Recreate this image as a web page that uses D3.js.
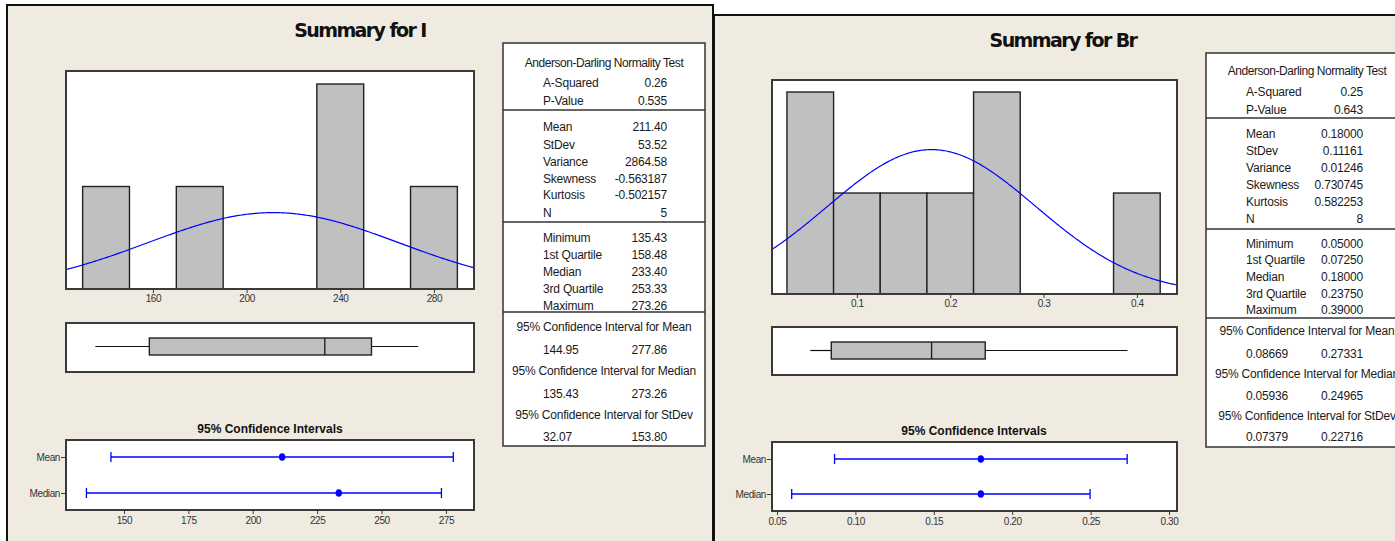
<!DOCTYPE html>
<html><head><meta charset="utf-8">
<script src="https://cdn.jsdelivr.net/npm/d3@7/dist/d3.min.js"></script>
<style>
html,body{margin:0;padding:0;background:#fff;}
svg{display:block;font-family:"Liberation Sans",Arial,sans-serif;}
</style></head><body>
<svg id="chart" width="1395" height="541"></svg>
<script>
// ---------------- DATA ----------------
const titles = ["Summary for I", "Summary for Br"];
const adHeader = "Anderson-Darling Normality Test";
const adLabels = ["A-Squared", "P-Value"];
const descLabels = ["Mean", "StDev", "Variance", "Skewness", "Kurtosis", "N"];
const quartLabels = ["Minimum", "1st Quartile", "Median", "3rd Quartile", "Maximum"];
const ciLabels = ["95% Confidence Interval for Mean", "95% Confidence Interval for Median", "95% Confidence Interval for StDev"];
const ciTitle = "95% Confidence Intervals";
const ciRows = ["Mean", "Median"];

// I
const iBinMid = [140, 160, 180, 200, 220, 240, 260, 280];
const iCounts = [1, 0, 1, 0, 0, 2, 0, 1];
const iBinWidth = 20;
const iMean = 211.40, iStDev = 53.52, iN = 5;
const iAdValues = ["0.26", "0.535"];
const iDescValues = ["211.40", "53.52", "2864.58", "-0.563187", "-0.502157", "5"];
const iQuartValues = ["135.43", "158.48", "233.40", "253.33", "273.26"];
const iCiValues = [["144.95", "277.86"], ["135.43", "273.26"], ["32.07", "153.80"]];
const iCiLow = [144.95, 135.43];
const iCiHigh = [277.86, 273.26];
const iCiPoint = [211.40, 233.40];
const iHistTicks = [160, 200, 240, 280];
const iCiTicks = [150, 175, 200, 225, 250, 275];

// Br
const brBinMid = [0.05, 0.10, 0.15, 0.20, 0.25, 0.30, 0.35, 0.40];
const brCounts = [2, 1, 1, 1, 2, 0, 0, 1];
const brBinWidth = 0.05;
const brMean = 0.18000, brStDev = 0.11161, brN = 8;
const brAdValues = ["0.25", "0.643"];
const brDescValues = ["0.18000", "0.11161", "0.01246", "0.730745", "0.582253", "8"];
const brQuartValues = ["0.05000", "0.07250", "0.18000", "0.23750", "0.39000"];
const brCiValues = [["0.08669", "0.27331"], ["0.05936", "0.24965"], ["0.07379", "0.22716"]];
const brCiLow = [0.08669, 0.05936];
const brCiHigh = [0.27331, 0.24965];
const brCiPoint = [0.18000, 0.18000];
const brHistTicks = [0.1, 0.2, 0.3, 0.4];
const brCiTicks = [0.05, 0.10, 0.15, 0.20, 0.25, 0.30];

// ---------------- LAYOUT ----------------
const BG = "#EFEBE1", FRAME = "#3a3a3a", BAR = "#C0C0C0", BLUE = "#0000FF", TXT = "#1a1a1a";
const svg = d3.select("#chart");
svg.append("rect").attr("x", 0).attr("y", 0).attr("width", 1395).attr("height", 541).attr("fill", "#fff");

const panels = [
  {
    title: titles[0], panel: {x: 7, y: 5, w: 706}, titleX: 360, titleY: 37,
    binMid: iBinMid, counts: iCounts, binW: iBinWidth, mean: iMean, sd: iStDev, n: iN,
    histX: [122.9, 297.1], yMax: 2.127, hist: {x0: 66, x1: 474, y0: 71, y1: 289}, histTicks: iHistTicks, histFmt: d3.format("d"),
    box: {y0: 323, y1: 372, b0: 338, b1: 355}, quart: iQuartValues,
    ciTitleX: 270, ciTitleY: 433, ci: {y0: 440, y1: 510, r0: 457, r1: 493}, ciX: [127.5, 285.9],
    ciTicks: iCiTicks, ciFmt: d3.format("d"), ciLow: iCiLow, ciHigh: iCiHigh, ciPoint: iCiPoint,
    table: {x0: 503, x1: 705, y0: 43, y1: 446, seps: [110, 222, 312], labX: 543, valX: 667,
      rows: [63, 83, 101, 127, 145, 162, 179, 195, 213, 238, 255, 272, 289, 306, 327, 350, 371, 394, 415, 437]},
    ad: iAdValues, desc: iDescValues, ciVals: iCiValues
  },
  {
    title: titles[1], panel: {x: 714, y: 15, w: 700}, titleX: 1063, titleY: 47,
    binMid: brBinMid, counts: brCounts, binW: brBinWidth, mean: brMean, sd: brStDev, n: brN,
    histX: [0.009, 0.443], yMax: 2.119, hist: {x0: 772, x1: 1177, y0: 80, y1: 294}, histTicks: brHistTicks, histFmt: d3.format(".1f"),
    box: {y0: 327, y1: 375, b0: 342, b1: 359}, quart: brQuartValues,
    ciTitleX: 974, ciTitleY: 435, ci: {y0: 442, y1: 511, r0: 459, r1: 494}, ciX: [0.0468, 0.3051],
    ciTicks: brCiTicks, ciFmt: d3.format(".2f"), ciLow: brCiLow, ciHigh: brCiHigh, ciPoint: brCiPoint,
    table: {x0: 1206, x1: 1408, y0: 53, y1: 447, seps: [118, 229, 318], labX: 1246, valX: 1363,
      rows: [71, 92, 110, 134, 151, 168, 185, 202, 219, 244, 260, 277, 294, 310, 331, 354, 374, 396, 416, 437]},
    ad: brAdValues, desc: brDescValues, ciVals: brCiValues
  }
];

function styleAxis(g, fs) {
  g.select(".domain").remove();
  g.selectAll(".tick line").attr("stroke", FRAME).attr("stroke-width", 1);
  g.selectAll(".tick text").attr("fill", "#333").attr("font-size", fs).attr("font-family", "'Liberation Sans',Arial,sans-serif").attr("letter-spacing", "-0.4px");
}

panels.forEach((p, pi) => {
  const g = svg.append("g");
  // panel background + border
  g.append("rect").attr("x", p.panel.x).attr("y", p.panel.y).attr("width", p.panel.w).attr("height", 541 - p.panel.y + 5)
    .attr("fill", BG).attr("stroke", "#111").attr("stroke-width", 2);

  // title
  g.append("text").attr("x", p.titleX).attr("y", p.titleY).attr("text-anchor", "middle")
    .attr("font-family", "'DejaVu Sans',Verdana,sans-serif")
    .attr("font-size", 19).attr("font-weight", "bold").attr("letter-spacing", "-1.6px").attr("fill", "#111").text(p.title);

  // ---- histogram ----
  const H = p.hist;
  const x = d3.scaleLinear().domain(p.histX).range([H.x0, H.x1]);
  const y = d3.scaleLinear().domain([0, p.yMax]).range([H.y1, H.y0]);
  g.append("rect").attr("x", H.x0).attr("y", H.y0).attr("width", H.x1 - H.x0).attr("height", H.y1 - H.y0)
    .attr("fill", "#fff");
  const clipId = "clip" + pi;
  svg.append("clipPath").attr("id", clipId).append("rect").attr("x", H.x0).attr("y", H.y0).attr("width", H.x1 - H.x0).attr("height", H.y1 - H.y0);
  g.selectAll(".bar").data(p.binMid).join("rect")
    .attr("x", d => x(d - p.binW / 2)).attr("width", d => x(d + p.binW / 2) - x(d - p.binW / 2))
    .attr("y", (d, i) => y(p.counts[i])).attr("height", (d, i) => y(0) - y(p.counts[i]))
    .attr("fill", BAR).attr("stroke", "#222").attr("stroke-width", 1.4);
  // fitted normal curve from the mean / stdev shown in the table
  const curvePts = d3.range(0, 301).map(k => p.histX[0] + (p.histX[1] - p.histX[0]) * k / 300);
  const dens = v => p.n * p.binW * Math.exp(-0.5 * ((v - p.mean) / p.sd) ** 2) / (p.sd * Math.sqrt(2 * Math.PI));
  g.append("path").datum(curvePts).attr("clip-path", `url(#${clipId})`)
    .attr("d", d3.line().x(d => x(d)).y(d => y(dens(d))))
    .attr("fill", "none").attr("stroke", BLUE).attr("stroke-width", 1.2);
  g.append("rect").attr("x", H.x0).attr("y", H.y0).attr("width", H.x1 - H.x0).attr("height", H.y1 - H.y0)
    .attr("fill", "none").attr("stroke", FRAME).attr("stroke-width", 2);
  const ax = g.append("g").attr("transform", `translate(0,${H.y1 + 1})`)
    .call(d3.axisBottom(x).tickValues(p.histTicks).tickFormat(p.histFmt).tickSize(3).tickPadding(2));
  styleAxis(ax, 10);

  // ---- boxplot ----
  const B = p.box;
  const q = p.quart.map(Number);
  g.append("rect").attr("x", H.x0).attr("y", B.y0).attr("width", H.x1 - H.x0).attr("height", B.y1 - B.y0)
    .attr("fill", "#fff").attr("stroke", FRAME).attr("stroke-width", 2);
  const bm = (B.b0 + B.b1) / 2;
  g.append("line").attr("x1", x(q[0])).attr("x2", x(q[1])).attr("y1", bm).attr("y2", bm).attr("stroke", "#111").attr("stroke-width", 1.2);
  g.append("line").attr("x1", x(q[3])).attr("x2", x(q[4])).attr("y1", bm).attr("y2", bm).attr("stroke", "#111").attr("stroke-width", 1.2);
  g.append("rect").attr("x", x(q[1])).attr("y", B.b0).attr("width", x(q[3]) - x(q[1])).attr("height", B.b1 - B.b0)
    .attr("fill", BAR).attr("stroke", "#222").attr("stroke-width", 1.4);
  g.append("line").attr("x1", x(q[2])).attr("x2", x(q[2])).attr("y1", B.b0).attr("y2", B.b1).attr("stroke", "#222").attr("stroke-width", 1.4);

  // ---- CI plot ----
  const C = p.ci;
  g.append("text").attr("x", p.ciTitleX).attr("y", p.ciTitleY).attr("text-anchor", "middle")
    .attr("font-size", 12).attr("font-weight", "bold").attr("fill", "#111").text(ciTitle);
  const cx = d3.scaleLinear().domain(p.ciX).range([H.x0, H.x1]);
  const cy = d3.scalePoint().domain(ciRows).range([C.r0, C.r1]);
  g.append("rect").attr("x", H.x0).attr("y", C.y0).attr("width", H.x1 - H.x0).attr("height", C.y1 - C.y0)
    .attr("fill", "#fff").attr("stroke", FRAME).attr("stroke-width", 2);
  ciRows.forEach((r, i) => {
    const yy = cy(r);
    g.append("line").attr("x1", cx(p.ciLow[i])).attr("x2", cx(p.ciHigh[i])).attr("y1", yy).attr("y2", yy).attr("stroke", BLUE).attr("stroke-width", 1.3);
    [p.ciLow[i], p.ciHigh[i]].forEach(v => {
      g.append("line").attr("x1", cx(v)).attr("x2", cx(v)).attr("y1", yy - 5).attr("y2", yy + 5).attr("stroke", BLUE).attr("stroke-width", 1.3);
    });
    g.append("ellipse").attr("cx", cx(p.ciPoint[i])).attr("cy", yy).attr("rx", 3.2).attr("ry", 3.8).attr("fill", BLUE);
  });
  const cax = g.append("g").attr("transform", `translate(0,${C.y1 + 1})`)
    .call(d3.axisBottom(cx).tickValues(p.ciTicks).tickFormat(p.ciFmt).tickSize(3).tickPadding(3));
  styleAxis(cax, 10);
  const cay = g.append("g").attr("transform", `translate(${H.x0 - 1},0)`)
    .call(d3.axisLeft(cy).tickSize(4).tickPadding(1));
  styleAxis(cay, 10);

  // ---- stats table ----
  const T = p.table;
  g.append("rect").attr("x", T.x0).attr("y", T.y0).attr("width", T.x1 - T.x0).attr("height", T.y1 - T.y0)
    .attr("fill", "#fff").attr("stroke", "#333").attr("stroke-width", 1.5);
  T.seps.forEach(s => g.append("line").attr("x1", T.x0).attr("x2", T.x1).attr("y1", s).attr("y2", s).attr("stroke", "#333").attr("stroke-width", 1.5));
  const cxT = (T.x0 + T.x1) / 2;
  const R = T.rows;
  const txt = (xx, yy, s, anchor) => g.append("text").attr("x", xx).attr("y", yy).attr("dy", "0.35em")
    .attr("text-anchor", anchor).attr("font-size", 12).attr("letter-spacing", "-0.2px").attr("fill", TXT).text(s);
  txt(cxT, R[0], adHeader, "middle").attr("letter-spacing", "-0.45px");
  adLabels.forEach((l, i) => { txt(T.labX, R[1 + i], l, "start"); txt(T.valX, R[1 + i], p.ad[i], "end"); });
  descLabels.forEach((l, i) => { txt(T.labX, R[3 + i], l, "start"); txt(T.valX, R[3 + i], p.desc[i], "end"); });
  quartLabels.forEach((l, i) => { txt(T.labX, R[9 + i], l, "start"); txt(T.valX, R[9 + i], p.quart[i], "end"); });
  ciLabels.forEach((l, i) => {
    txt(cxT, R[14 + 2 * i], l, "middle");
    txt(T.labX, R[15 + 2 * i], p.ciVals[i][0], "start");
    txt(T.valX, R[15 + 2 * i], p.ciVals[i][1], "end");
  });
});
</script>
</body></html>
